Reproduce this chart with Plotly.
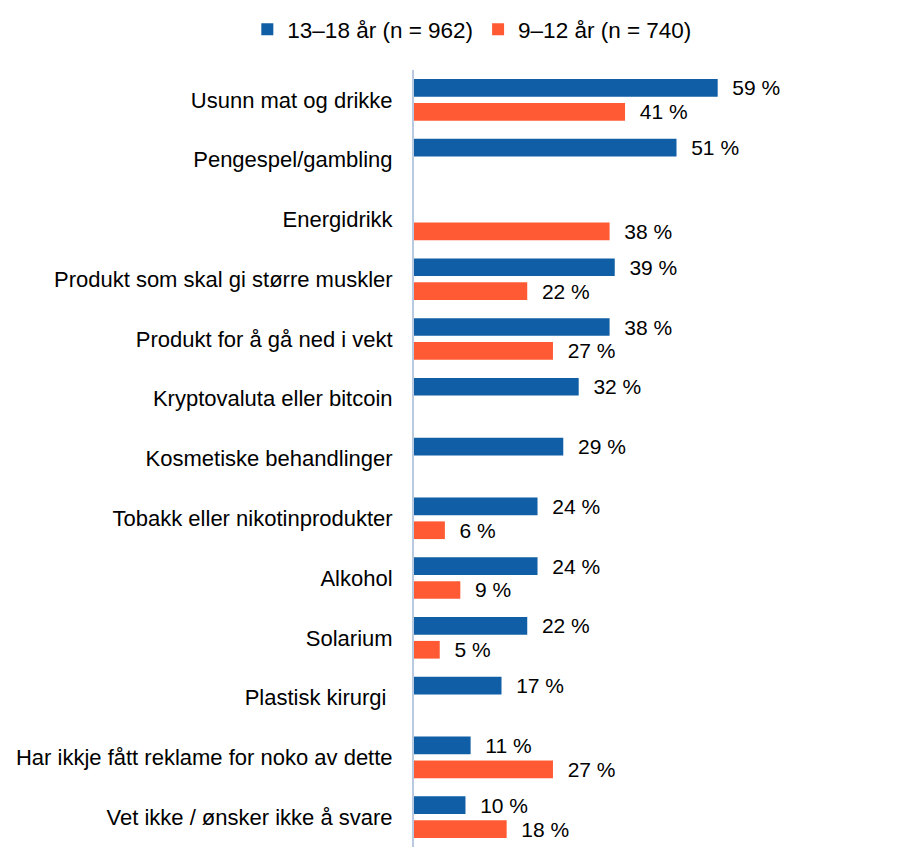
import plotly.graph_objects as go

categories = [
    "Usunn mat og drikke",
    "Pengespel/gambling",
    "Energidrikk",
    "Produkt som skal gi større muskler",
    "Produkt for å gå ned i vekt",
    "Kryptovaluta eller bitcoin",
    "Kosmetiske behandlinger",
    "Tobakk eller nikotinprodukter",
    "Alkohol",
    "Solarium",
    "Plastisk kirurgi ",
    "Har ikkje fått reklame for noko av dette",
    "Vet ikke / ønsker ikke å svare",
]
older = [59, 51, None, 39, 38, 32, 29, 24, 24, 22, 17, 11, 10]
younger = [41, None, 38, 22, 27, None, None, 6, 9, 5, None, 27, 18]
series_names = ["13–18 år (n = 962)", "9–12 år (n = 740)"]

BLUE = "#105FA6"
ORANGE = "#FF5A33"
FONT = "Liberation Sans, Arial, sans-serif"

fig = go.Figure()
for name, vals, col in [(series_names[0], older, BLUE), (series_names[1], younger, ORANGE)]:
    fig.add_trace(go.Bar(
        y=categories, x=vals, name=name, orientation="h",
        marker=dict(color=col, line=dict(width=0)),
        texttemplate="  %{x} %", textposition="outside",
        constraintext="none",
        textfont=dict(family=FONT, size=21, color="#000000"),
        cliponaxis=False,
    ))

fig.update_layout(
    width=893, height=851,
    margin=dict(l=406, r=15, t=62, b=12, autoexpand=False),
    paper_bgcolor="white", plot_bgcolor="white",
    barmode="group", bargap=0.2, bargroupgap=0.26,
    font=dict(family=FONT, size=21, color="#000000"),
    showlegend=True,
    legend=dict(orientation="h", xref="container", yref="container",
                x=0.268, xanchor="left", y=1.0, yanchor="top",
                font=dict(family=FONT, size=22.5, color="#000000"),
                itemwidth=30, traceorder="normal"),
    xaxis=dict(range=[0, 91.7], visible=False, showgrid=False, zeroline=False,
               automargin=False),
    yaxis=dict(autorange="reversed", showgrid=False, zeroline=False,
               automargin=False,
               showline=True, linecolor="#B9C9DF", linewidth=2,
               ticks="", ticklabelstandoff=15,
               tickfont=dict(family=FONT, size=22, color="#000000")),
)

fig.write_html("out.html")
